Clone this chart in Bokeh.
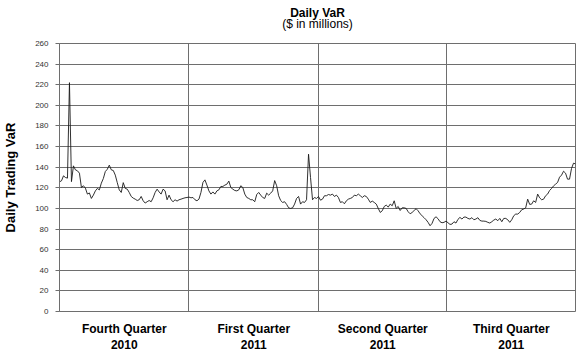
from bokeh.plotting import figure
from bokeh.models import Range1d, FixedTicker, Title, ColumnDataSource
from bokeh.embed import file_html
from bokeh.resources import INLINE

# Daily trading VaR ($ millions), one value per trading day, Q4 2010 - Q3 2011
var_q4_2010 = [125.8, 126.8, 131.6, 130, 129.4, 222, 126, 141.3, 137.4, 136.5, 134.2, 120.3, 122,
               119.7, 113.9, 115, 109.7, 112.9, 117, 119.4, 118, 124.5, 129, 135.8, 138, 142,
               137.4, 136.8, 132.3, 125, 118, 115.5, 125, 119.4, 118.7, 115.5, 111.6, 110, 109,
               107.7, 108.4, 111.6, 107.4, 105.2, 106.5, 107.7, 106.5, 110.3, 115.5, 118.7, 116,
               113.9, 118.7, 117, 108.4, 112.9, 108.4, 106.5, 108.4, 107.1, 108.4, 109, 109.7,
               110.3, 110.6]
var_q1_2011 = [111, 110.3, 110.6, 108.4, 107.4, 109, 115.5, 125.2, 127.7, 122.6, 117, 113.9, 116,
               113.9, 117, 118, 121.3, 121.3, 122.6, 123.5, 126.5, 120.3, 118.7, 117.4, 117, 118,
               122, 120.3, 113.9, 110.6, 109.7, 108.4, 108.4, 106.5, 113.5, 115.5, 112.9, 110.6,
               109.7, 114.8, 112.9, 114.8, 117, 127, 122, 112.3, 107.7, 105.8, 106.5, 103.9, 100.6,
               100, 100.6, 104.2, 109.7, 111.6, 104.2, 106.5, 105.8, 108.4, 152.6, 130, 108.4,
               110.6, 109.7]
var_q2_2011 = [111.6, 108, 109, 112.3, 112.3, 113.5, 112.9, 113.9, 111.6, 112.9, 110.6, 105.8,
               106.5, 104.5, 107.4, 109, 109.7, 110.6, 112.9, 112.3, 113.9, 112.3, 110.6, 112.3,
               111.6, 109, 105.8, 107.1, 105.8, 104.2, 100, 96.1, 97.7, 101.9, 103.2, 101.3, 104.2,
               102.6, 107.4, 100, 101.9, 98, 100.6, 100.6, 100, 96.8, 94.8, 96.1, 98, 99.7, 97.7,
               94.8, 92.9, 91, 89, 86.5, 83.2, 85.5, 90.3, 91.9, 90, 87.1, 86.1, 86.5, 87.7]
var_q3_2011 = [86.1, 84.5, 84.8, 87.1, 85.8, 89.4, 91.3, 89.7, 91.6, 91.6, 90.3, 89.7, 91, 89,
               89.7, 91, 88.4, 87.7, 87.7, 87.4, 86.5, 85.8, 87.1, 88.7, 89.7, 88.1, 90.3, 87.1,
               90.3, 90.3, 89, 86.5, 89, 92.9, 94.5, 94.5, 96.1, 98.7, 99.4, 100.6, 109, 103.9,
               104.2, 107.4, 105.8, 113.9, 110.3, 108.4, 109, 112.3, 113.9, 117.4, 119.4, 121.9,
               123.5, 125.2, 130.3, 132.3, 136.1, 134.2, 128.4, 128.4, 138.7, 143.9, 143.2]

var_values = var_q4_2010 + var_q1_2011 + var_q2_2011 + var_q3_2011
days = list(range(len(var_values)))

quarter_bounds = [0, 65, 130, 194.5, len(var_values) - 1]
quarter_names = ["Fourth Quarter", "First Quarter", "Second Quarter", "Third Quarter"]
quarter_years = ["2010", "2011", "2011", "2011"]
y_ticks = list(range(0, 261, 20))

FONT = "Liberation Sans"
GRID = "#6e6e6e"

p = figure(width=576, height=355, output_backend="svg", toolbar_location=None,
           x_range=Range1d(quarter_bounds[0], quarter_bounds[-1]),
           y_range=Range1d(y_ticks[0], y_ticks[-1]),
           min_border_left=57, min_border_right=1, min_border_top=43, min_border_bottom=44)
p.background_fill_color = "white"
p.border_fill_color = "white"
p.outline_line_color = GRID
p.outline_line_width = 1

# Titles: sub-title added first (closest to the plot), main title outermost
p.add_layout(Title(text="($ in millions)", align="center", text_font=FONT,
                   text_font_size="12px", text_font_style="normal", text_color="black",
                   standoff=25, offset=0), "above")
p.add_layout(Title(text="Daily VaR", align="center", text_font=FONT,
                   text_font_size="12px", text_font_style="bold", text_color="black",
                   standoff=-35, offset=0), "above")

# Quarter labels on the x axis (centred in each quarter)
mids = [(quarter_bounds[i] + quarter_bounds[i + 1]) / 2 for i in range(len(quarter_names))]
p.xaxis.ticker = FixedTicker(ticks=mids)
p.xaxis.major_label_overrides = {m: f"{n}\n{y}" for m, n, y in zip(mids, quarter_names, quarter_years)}
p.xaxis.axis_line_color = None
p.xaxis.major_tick_line_color = None
p.xaxis.minor_tick_line_color = None
p.xaxis.major_tick_in = 0
p.xaxis.major_tick_out = 0
p.xaxis.major_label_standoff = 10
p.xaxis.major_label_text_font = FONT
p.xaxis.major_label_text_font_size = "12px"
p.xaxis.major_label_text_font_style = "bold"
p.xaxis.major_label_text_color = "black"
p.xaxis.major_label_text_line_height = 1.2

p.xgrid.ticker = FixedTicker(ticks=quarter_bounds[1:-1])
p.xgrid.grid_line_color = GRID
p.xgrid.grid_line_width = 1

p.yaxis.ticker = FixedTicker(ticks=y_ticks)
p.ygrid.grid_line_color = GRID
p.ygrid.grid_line_width = 1
p.yaxis.axis_line_color = GRID
p.yaxis.major_tick_line_color = GRID
p.yaxis.major_tick_in = 0
p.yaxis.major_tick_out = 4
p.yaxis.minor_tick_line_color = None
p.yaxis.major_label_text_font = FONT
p.yaxis.major_label_text_font_size = "8px"
p.yaxis.major_label_text_color = "#333333"
p.yaxis.major_label_standoff = 7
p.yaxis.axis_label = "Daily Trading VaR"
p.yaxis.axis_label_text_font = FONT
p.yaxis.axis_label_text_font_size = "13px"
p.yaxis.axis_label_text_font_style = "bold"
p.yaxis.axis_label_text_color = "black"
p.yaxis.axis_label_standoff = 14

src = ColumnDataSource(dict(day=days, var=var_values))
p.line("day", "var", source=src, line_color="#1a1a1a", line_width=0.9)

open("out.html", "w").write(file_html(p, INLINE))
